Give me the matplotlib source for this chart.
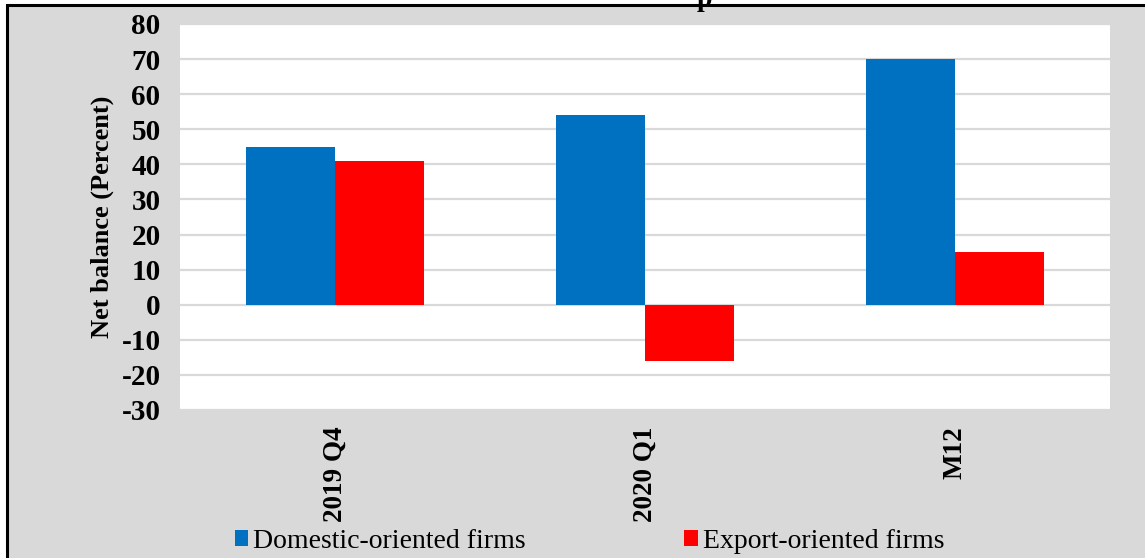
import numpy as np
import matplotlib.pyplot as plt
from matplotlib.patches import Rectangle

plt.rcParams['font.family'] = ['Liberation Serif', 'DejaVu Serif']
plt.rcParams['axes.unicode_minus'] = False

# net balance by period
periods = ['2019 Q4', '2020 Q1', 'M12']
domestic = [45, 54, 70]
export = [41, -16, 15]

fig = plt.figure(figsize=(11.45, 5.58), dpi=100, facecolor='white')

# grey panel with black frame (right/bottom edges run off the canvas)
panel = Rectangle((7 / 1145, -0.05), 1.1, 1.05 - 5 / 558, transform=fig.transFigure,
                  facecolor='#d9d9d9', edgecolor='black', linewidth=2.2, zorder=-10)
fig.patches.append(panel)

ax = fig.add_axes([180 / 1145, 1 - 410 / 558, 930 / 1145, 386 / 558])
ax.set_facecolor('white')

x = np.arange(len(periods))
w = 0.287
ax.bar(x - w / 2, domestic, w, color='#0070c0', label='Domestic-oriented firms', zorder=3)
ax.bar(x + w / 2, export, w, color='#ff0000', label='Export-oriented firms', zorder=3)

ax.set_xlim(-0.5, len(periods) - 0.5)
ax.set_ylim(-30, 80)
ax.set_yticks(range(-30, 81, 10))
ax.yaxis.grid(True, color='#d9d9d9', linewidth=1.6, zorder=0)
ax.set_axisbelow(True)

for s in ax.spines.values():
    s.set_visible(False)

ax.set_xticks(x)
ax.set_xticklabels(periods, rotation=90, fontsize=19.5, fontweight='bold')
ax.set_xticks([0.5, 1.5], minor=True)
ax.tick_params(axis='x', which='major', length=0, pad=12)
ax.tick_params(axis='x', which='minor', length=4, color='#d9d9d9', width=1.2)
ax.tick_params(axis='y', length=0, pad=14, labelsize=21)
for lab in ax.get_yticklabels():
    lab.set_fontweight('bold')

ax.set_ylabel('Net balance (Percent)', fontsize=19, fontweight='bold', labelpad=5)

# title mostly cropped above the canvas
fig.text(0.615, 1.0, 'p', fontsize=20, fontweight='bold', ha='center', va='center')

fig.legend(loc='center', bbox_to_anchor=(0.515, 1 - 541 / 558), ncol=2, frameon=False,
           fontsize=20, handlelength=0.5, handleheight=0.5, handletextpad=0.18,
           columnspacing=5.7)

fig.savefig('out.png', dpi=100)
